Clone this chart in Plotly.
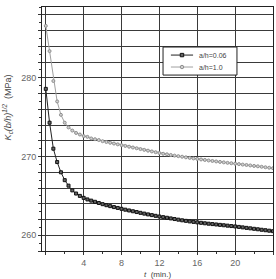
import plotly.graph_objects as go

t_min = [0.0, 0.4, 0.8, 1.2, 1.6, 2.0, 2.4, 2.8, 3.2, 3.6, 4.0, 4.4, 4.8, 5.2, 5.6,
         6.0, 6.4, 6.8, 7.2, 7.6, 8.0, 8.4, 8.8, 9.2, 9.6, 10.0, 10.4, 10.8, 11.2, 11.6,
         12.0, 12.4, 12.8, 13.2, 13.6, 14.0, 14.4, 14.8, 15.2, 15.6, 16.0, 16.4, 16.8,
         17.2, 17.6, 18.0, 18.4, 18.8, 19.2, 19.6, 20.0, 20.4, 20.8, 21.2, 21.6, 22.0,
         22.4, 22.8, 23.2, 23.6, 24.0]

kc_ah006 = [278.6, 274.3, 271.0, 269.3, 268.0, 267.0, 266.3, 265.7, 265.3, 265.0,
            264.75, 264.55, 264.4, 264.25, 264.1, 263.95, 263.82, 263.7, 263.58, 263.47,
            263.36, 263.25, 263.15, 263.05, 262.95, 262.85, 262.75, 262.65, 262.56, 262.47,
            262.38, 262.3, 262.22, 262.14, 262.06, 261.98, 261.9, 261.83, 261.76, 261.7,
            261.64, 261.58, 261.52, 261.47, 261.42, 261.37, 261.32, 261.27, 261.22, 261.17,
            261.12, 261.06, 261.0, 260.94, 260.88, 260.82, 260.76, 260.7, 260.64, 260.58,
            260.52]

kc_ah10 = [286.6, 283.4, 279.6, 277.0, 275.3, 274.3, 273.7, 273.3, 273.0, 272.8,
           272.6, 272.5, 272.3, 272.2, 272.1, 271.95, 271.85, 271.75, 271.65, 271.55,
           271.45, 271.35, 271.25, 271.15, 271.05, 270.95, 270.85, 270.75, 270.65, 270.55,
           270.45, 270.35, 270.28, 270.2, 270.12, 270.05, 269.98, 269.9, 269.83, 269.76,
           269.7, 269.63, 269.57, 269.5, 269.44, 269.38, 269.32, 269.26, 269.2, 269.15,
           269.1, 269.04, 268.98, 268.93, 268.87, 268.81, 268.76, 268.7, 268.64, 268.58,
           268.52]

series_names = ["a/h=0.06", "a/h=1.0"]

x_tickvals = [0, 4, 8, 12, 16, 20, 24]
x_ticktext = ["", "4", "8", "12", "16", "20", ""]
y_tickvals = [258, 260, 262, 264, 266, 268, 270, 272, 274, 276, 278, 280, 282, 284, 286, 288]
y_ticktext = ["", "260", "", "", "", "", "270", "", "", "", "", "280", "", "", "", ""]

FONT = "Liberation Sans, Arial, sans-serif"

styles = [
    dict(line=dict(color="#222222", width=1),
         marker=dict(symbol="square", size=3, color="#666666",
                     line=dict(color="#111111", width=1))),
    dict(line=dict(color="#a0a0a0", width=1),
         marker=dict(symbol="circle", size=3, color="#d0d0d0",
                     line=dict(color="#909090", width=1))),
]

fig = go.Figure()
for name, ys, st in zip(series_names, [kc_ah006, kc_ah10], styles):
    fig.add_trace(go.Scatter(x=t_min, y=ys, mode="lines+markers", name=name,
                             showlegend=False, **st))

axis_common = dict(
    showline=True, linecolor="#222222", linewidth=1, mirror=True,
    showgrid=True, gridcolor="#3a3a3a", gridwidth=1, zeroline=False,
    ticks="outside", ticklen=3, tickcolor="#333333",
    tickfont=dict(family=FONT, size=9, color="#666666"),
)

fig.update_xaxes(range=[-0.4, 24], tickmode="array", tickvals=x_tickvals,
                 ticktext=x_ticktext,
                 minor=dict(dtick=2, tick0=0, ticks="outside", ticklen=2,
                            tickcolor="#333333", showgrid=False),
                 **axis_common)
fig.update_yaxes(range=[258, 289], tickmode="array", tickvals=y_tickvals,
                 ticktext=y_ticktext,
                 minor=dict(dtick=1, tick0=0, ticks="outside", ticklen=2,
                            tickcolor="#333333", showgrid=False),
                 **axis_common)

# Legend drawn compactly (box, sample lines/markers, labels) in paper coordinates
fig.add_shape(type="rect", xref="paper", yref="paper", x0=0.524, x1=0.844,
              y0=0.721, y1=0.836, line=dict(color="#222222", width=1),
              fillcolor="white", layer="above")
leg_y = [0.803, 0.754]
for name, st, ly in zip(series_names, styles, leg_y):
    fig.add_shape(type="line", xref="paper", yref="paper", x0=0.558, x1=0.654,
                  y0=ly, y1=ly, line=st["line"], layer="above")
    mk = st["marker"]
    shp = "rect" if mk["symbol"] == "square" else "circle"
    fig.add_shape(type=shp, xref="paper", yref="paper",
                  x0=0.606 - 0.0075, x1=0.606 + 0.0075,
                  y0=ly - 0.007, y1=ly + 0.007,
                  fillcolor=mk["color"], line=dict(color=mk["line"]["color"], width=1),
                  layer="above")
    fig.add_annotation(xref="paper", yref="paper", x=0.672, y=ly,
                       xanchor="left", yanchor="middle", showarrow=False, text=name,
                       font=dict(family=FONT, size=7, color="#444444"))

fig.add_annotation(xref="paper", yref="paper", x=0.5, y=-0.098,
                   xanchor="center", yanchor="middle", showarrow=False,
                   text="<i>t</i>  (min.)",
                   font=dict(family=FONT, size=8, color="#444444"))
fig.add_annotation(xref="paper", yref="paper", x=-0.15, y=0.59,
                   xanchor="center", yanchor="middle", showarrow=False, textangle=-90,
                   text="<i>K<sub>c</sub>(b/h)<sup>1/2</sup></i>  (MPa)",
                   font=dict(family=FONT, size=9, color="#444444"))

fig.update_layout(
    width=276, height=279,
    margin=dict(l=42, r=3, t=7, b=28),
    paper_bgcolor="white", plot_bgcolor="white",
    showlegend=False,
)

fig.write_html("out.html")
